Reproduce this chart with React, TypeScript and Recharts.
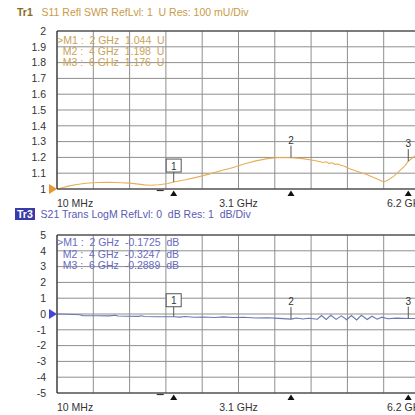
import React from "react";
import {
  LineChart,
  Line,
  XAxis,
  YAxis,
  CartesianGrid,
  ReferenceDot,
  ReferenceLine,
} from "recharts";

// ---- data ----
const swrFreq = [
  0.01, 0.1, 0.2, 0.35, 0.5, 0.7, 0.9, 1.1, 1.25, 1.4, 1.5, 1.6, 1.75, 1.9, 2.0,
  2.2, 2.4, 2.6, 2.8, 3.0, 3.2, 3.4, 3.6, 3.8, 4.0, 4.2, 4.4, 4.5, 4.55, 4.6,
  4.65, 4.7, 4.75, 4.8, 4.85, 4.9, 5.0, 5.1, 5.2, 5.3, 5.4, 5.5, 5.58, 5.65,
  5.75, 5.85, 5.95, 6.0, 6.1, 6.2,
];
const swrVal = [
  1.0, 1.008, 1.018, 1.028, 1.036, 1.041, 1.043, 1.04, 1.037, 1.031, 1.026,
  1.024, 1.027, 1.035, 1.044, 1.058, 1.075, 1.094, 1.115, 1.135, 1.158, 1.178,
  1.192, 1.199, 1.198, 1.192, 1.18, 1.172, 1.168, 1.172, 1.162, 1.166, 1.156,
  1.158, 1.15, 1.145, 1.128, 1.115, 1.103, 1.09, 1.075, 1.058, 1.045, 1.055,
  1.08, 1.115, 1.15, 1.176, 1.205, 1.232,
];

const s21Freq = [
  0.01, 0.2, 0.4, 0.45, 0.7, 0.9, 1.0, 1.05, 1.2, 1.4, 1.45, 1.5, 1.7, 1.9, 2.0,
  2.1, 2.2, 2.35, 2.5, 2.7, 2.85, 3.0, 3.2, 3.4, 3.6, 3.8, 4.0, 4.1, 4.2, 4.3,
  4.38, 4.45, 4.52, 4.6, 4.68, 4.77, 4.86, 4.95, 5.03, 5.12, 5.2, 5.3, 5.38,
  5.47, 5.55, 5.65, 5.8, 6.0, 6.2,
];
const s21Val = [
  0.0, -0.02, -0.05, -0.1, -0.11, -0.12, -0.08, -0.13, -0.14, -0.15, -0.11,
  -0.16, -0.17, -0.17, -0.1725, -0.2, -0.16, -0.21, -0.19, -0.22, -0.18, -0.22,
  -0.21, -0.25, -0.24, -0.28, -0.3247, -0.25, -0.32, -0.27, -0.3, -0.33, -0.1,
  -0.35, -0.08, -0.34, -0.12, -0.36, -0.1, -0.38, -0.08, -0.35, -0.14, -0.33,
  -0.2, -0.3, -0.26, -0.2889, -0.28,
];

const gridFreqs = [
  0.01, 0.629, 1.248, 1.867, 2.486, 3.105, 3.724, 4.343, 4.962, 5.581, 6.2,
];
const xLabels = ["10 MHz", "", "", "", "", "3.1 GHz", "", "", "", "", "6.2 GHz"];
const swrTicks = [1, 1.1, 1.2, 1.3, 1.4, 1.5, 1.6, 1.7, 1.8, 1.9, 2];
const s21Ticks = [-5, -4, -3, -2, -1, 0, 1, 2, 3, 4, 5];

const markerFreqs = [2, 4, 6];
const markerNames = ["1", "2", "3"];
const swrMarkerVals = [1.044, 1.198, 1.176];
const s21MarkerVals = [-0.1725, -0.3247, -0.2889];
const dashFreq = 1.77;

const swrTable = [
  ">M1 :  2 GHz  1.044  U",
  "  M2 :  4 GHz  1.198  U",
  "  M3 :  6 GHz  1.176  U",
];
const s21Table = [
  ">M1 :  2 GHz  -0.1725  dB",
  "  M2 :  4 GHz  -0.3247  dB",
  "  M3 :  6 GHz  -0.2889  dB",
];

const FONT = "'Liberation Sans', Arial, sans-serif";

const makeMarkerShape = (label: string, boxed: boolean) => (props: any) => {
  const { cx, cy } = props;
  if (boxed) {
    return (
      <g>
        <line x1={cx} y1={cy} x2={cx} y2={cy - 10} stroke="#555" strokeWidth={1} />
        <rect x={cx - 7.5} y={cy - 23} width={15} height={13} fill="#fff" stroke="#555" strokeWidth={1} />
        <text x={cx} y={cy - 12.5} textAnchor="middle" fontSize={10} fontFamily={FONT} fill="#333">
          {label}
        </text>
      </g>
    );
  }
  return (
    <g>
      <line x1={cx} y1={cy} x2={cx} y2={cy - 12} stroke="#555" strokeWidth={1} />
      <text x={cx} y={cy - 14} textAnchor="middle" fontSize={10} fontFamily={FONT} fill="#333">
        {label}
      </text>
    </g>
  );
};

const triangleShape = (props: any) => {
  const { cx, cy } = props;
  return <path d={`M${cx - 3.5},${cy + 7} L${cx + 3.5},${cy + 7} L${cx},${cy + 1.5} Z`} fill="#111" />;
};

const dashShape = (props: any) => {
  const { cx, cy } = props;
  return <line x1={cx - 3.5} y1={cy + 1.5} x2={cx + 3.5} y2={cy + 1.5} stroke="#333" strokeWidth={1.2} />;
};

const makeRefShape = (color: string) => (props: any) => {
  const { cx, cy } = props;
  return <path d={`M${cx - 8},${cy - 5} L${cx - 8},${cy + 5} L${cx},${cy} Z`} fill={color} />;
};

const makeXTick = (dy: number) => (props: any) => {
  const { x, y, index } = props;
  const label = xLabels[index];
  if (!label) return <g />;
  let anchor: "start" | "middle" = "middle";
  let tx = x;
  if (index === 0) anchor = "start";
  if (index === xLabels.length - 1) {
    anchor = "start";
    tx = x - 33;
  }
  return (
    <text x={tx} y={y + dy} textAnchor={anchor} fontSize={10.5} fontFamily={FONT} fill="#333">
      {label}
    </text>
  );
};

type PanelProps = {
  freq: number[];
  vals: number[];
  ticks: number[];
  color: string;
  refColor: string;
  markerVals: number[];
  fmt: (v: number) => string;
  top: number;
  dy: number;
};

function Panel({ freq, vals, ticks, color, refColor, markerVals, fmt, top, dy }: PanelProps) {
  const data = freq.map((f, i) => ({ f, v: vals[i] }));
  const yMin = ticks[0];
  const yMax = ticks[ticks.length - 1];
  return (
    <div style={{ position: "absolute", left: 0, top }}>
      <LineChart
        width={440}
        height={220}
        data={data}
        margin={{ top: 31, right: 20, left: 0, bottom: 6 }}
      >
        <CartesianGrid stroke="#8f8f8f" strokeWidth={1} horizontalValues={ticks} verticalValues={gridFreqs} />
        <XAxis
          dataKey="f"
          type="number"
          domain={[gridFreqs[0], gridFreqs[gridFreqs.length - 1]]}
          ticks={gridFreqs}
          interval={0}
          height={25}
          tickSize={0}
          tickMargin={0}
          tick={makeXTick(dy)}
          axisLine={{ stroke: "#333", strokeWidth: 1.2 }}
          allowDataOverflow
        />
        <YAxis
          dataKey="v"
          type="number"
          domain={[yMin, yMax]}
          ticks={ticks}
          interval={0}
          width={57}
          tickSize={0}
          tickMargin={11}
          tickFormatter={fmt}
          tick={{ fontSize: 10.5, fontFamily: FONT, fill: "#333" }}
          axisLine={{ stroke: "#333", strokeWidth: 1.2 }}
          allowDataOverflow
        />
        <ReferenceLine y={yMax} stroke="#333" strokeWidth={1.2} />
        <Line
          type="linear"
          dataKey="v"
          stroke={color}
          strokeWidth={1.1}
          dot={false}
          isAnimationActive={false}
        />
        {markerFreqs.map((f, i) => (
          <ReferenceDot
            key={"m" + i}
            x={f}
            y={markerVals[i]}
            r={0}
            ifOverflow="visible"
            shape={makeMarkerShape(markerNames[i], i === 0)}
          />
        ))}
        {markerFreqs.map((f, i) => (
          <ReferenceDot key={"t" + i} x={f} y={yMin} r={0} ifOverflow="visible" shape={triangleShape} />
        ))}
        <ReferenceDot x={dashFreq} y={yMin} r={0} ifOverflow="visible" shape={dashShape} />
        <ReferenceDot x={gridFreqs[0]} y={vals[0]} r={0} ifOverflow="visible" shape={makeRefShape(refColor)} />
      </LineChart>
    </div>
  );
}

export default function App() {
  return (
    <div
      style={{
        position: "absolute",
        left: 0,
        top: 0,
        width: 415,
        height: 415,
        overflow: "hidden",
        background: "#fff",
        fontFamily: FONT,
      }}
    >
      <Panel
        freq={swrFreq}
        vals={swrVal}
        ticks={swrTicks}
        color="#E8AE55"
        refColor="#E8962E"
        markerVals={swrMarkerVals}
        fmt={(v) => String(+v.toFixed(1))}
        top={0}
        dy={18}
      />
      <Panel
        freq={s21Freq}
        vals={s21Val}
        ticks={s21Ticks}
        color="#6A78B4"
        refColor="#4444D8"
        markerVals={s21MarkerVals}
        fmt={(v) => String(v)}
        top={204}
        dy={18}
      />
      {/* titles */}
      <div style={{ position: "absolute", left: 17, top: 5, fontSize: 10.5, whiteSpace: "pre", lineHeight: "14px" }}>
        <span style={{ color: "#8A6A1E", fontWeight: "bold" }}>Tr1</span>
        <span style={{ color: "#C99A48" }}>{"   S11 Refl SWR RefLvl: 1  U Res: 100 mU/Div"}</span>
      </div>
      <div style={{ position: "absolute", left: 15, top: 207, fontSize: 10.5, whiteSpace: "pre", lineHeight: "14px" }}>
        <span style={{ color: "#fff", background: "#3A3AA8", fontWeight: "bold", padding: "0 2px" }}>Tr3</span>
        <span style={{ color: "#5A5AB4" }}>{"  S21 Trans LogM RefLvl: 0  dB Res: 1  dB/Div"}</span>
      </div>
      {/* marker tables */}
      {swrTable.map((t, i) => (
        <div
          key={"st" + i}
          style={{ position: "absolute", left: 57, top: 34 + i * 11, fontSize: 10.5, lineHeight: "12px", whiteSpace: "pre", color: "#C9A258" }}
        >
          {t}
        </div>
      ))}
      {s21Table.map((t, i) => (
        <div
          key={"bt" + i}
          style={{ position: "absolute", left: 57, top: 236 + i * 11.7, fontSize: 10.5, lineHeight: "12px", whiteSpace: "pre", color: "#6A6AC0" }}
        >
          {t}
        </div>
      ))}
    </div>
  );
}
